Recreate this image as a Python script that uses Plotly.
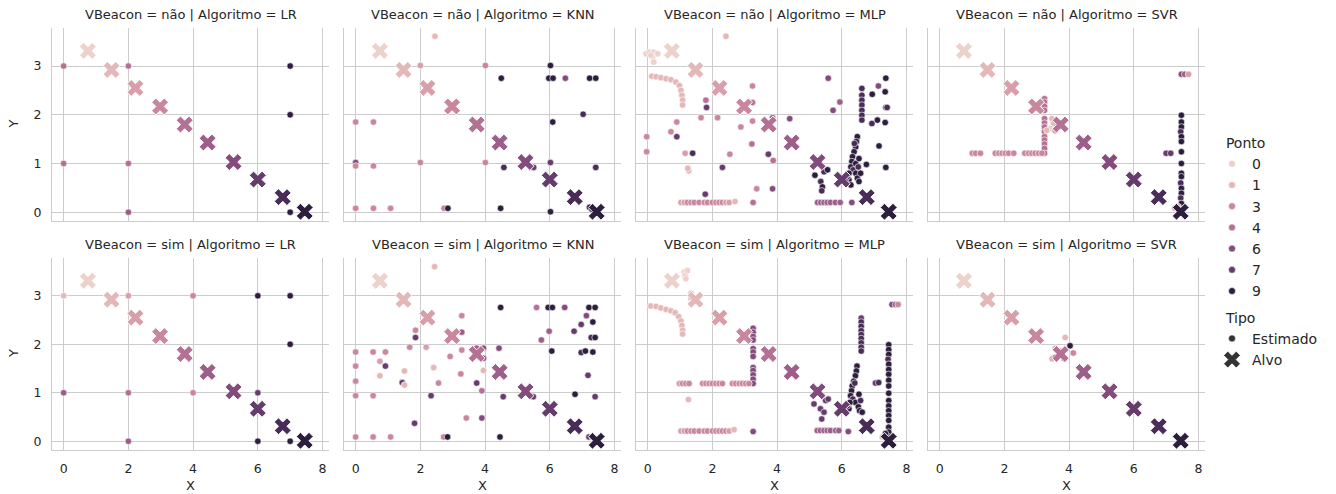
import numpy as np
import plotly.graph_objects as go

# ---------------- data ----------------
algoritmos = ["LR", "KNN", "MLP", "SVR"]
vbeacon = ["não", "sim"]
ponto_legend = [0, 1, 3, 4, 6, 7, 9]
x_ticks = [0, 2, 4, 6, 8]
y_ticks = [0, 1, 2, 3]

# targets (Alvo), Ponto 0..9
alvo_x = [0.75, 1.48, 2.22, 2.98, 3.74, 4.45, 5.25, 6.0, 6.77, 7.45]
alvo_y = [3.31, 2.92, 2.55, 2.17, 1.8, 1.43, 1.03, 0.67, 0.31, 0.01]
alvo_p = [0, 1, 2, 3, 4, 5, 6, 7, 8, 9]

# estimated points (x, y, Ponto) per panel
lr_nao = [(0, 3, 4), (0, 1, 4), (2, 3, 4), (2, 1, 4), (2, 0, 5),
          (7, 3, 9), (7, 2, 9), (7, 0, 9)]
lr_sim = [(0, 3, 1), (0, 1, 5), (2, 3, 2), (2, 1, 4), (2, 0, 5), (4, 3, 3), (4, 1, 3),
          (6, 3, 9), (6, 1, 7), (6, 0, 9), (7, 3, 9), (7, 2, 9), (7, 0, 9)]

knn_nao = [(2.45, 3.61, 1), (2.0, 3.01, 2), (4.01, 3.01, 3), (6.02, 3.01, 9), (4.5, 2.75, 9),
           (5.97, 2.75, 9), (6.1, 2.75, 9), (6.48, 2.75, 6), (7.23, 2.75, 9), (7.42, 2.75, 9),
           (7.03, 2.01, 8), (0, 1.85, 3), (0.55, 1.85, 3), (6.09, 1.85, 9), (0, 1.02, 6),
           (0, 0.95, 3), (0.55, 0.95, 3), (2.0, 1.02, 3), (4.01, 1.02, 3), (4.58, 0.92, 8),
           (5.5, 0.92, 7), (6.02, 1.02, 7), (7.42, 0.92, 8), (0, 0.08, 3), (0.55, 0.08, 3),
           (1.08, 0.08, 3), (2.73, 0.08, 3), (2.85, 0.08, 9), (4.48, 0.08, 9), (6.02, 0.01, 9),
           (7.23, 0.1, 9), (7.3, 0.06, 8)]

knn_sim = [(2.44, 3.6, 1), (4.48, 2.76, 9), (5.59, 2.76, 4), (5.95, 2.76, 9), (6.08, 2.76, 9),
           (6.46, 2.76, 6), (7.21, 2.76, 9), (7.4, 2.76, 9), (3.28, 2.59, 3), (7.13, 2.59, 6),
           (6.97, 2.41, 7), (7.33, 2.46, 9), (1.85, 2.29, 3), (3.28, 2.25, 5), (5.98, 2.27, 5),
           (6.75, 2.27, 7), (1.85, 2.14, 7), (5.74, 2.09, 5), (7.28, 2.14, 8), (7.4, 2.14, 9),
           (1.67, 1.94, 3), (2.18, 1.94, 2), (0, 1.84, 3), (0.54, 1.84, 3), (0.92, 1.84, 3),
           (3.28, 1.88, 3), (3.74, 1.92, 5), (3.95, 1.92, 6), (4.43, 1.92, 6), (6.06, 1.86, 9),
           (6.97, 1.83, 8), (7.1, 1.86, 9), (7.33, 1.84, 9), (0.75, 1.65, 2), (2.92, 1.75, 3),
           (3.69, 1.76, 3), (3.95, 1.71, 6), (0, 1.55, 3), (0.92, 1.55, 7), (1.51, 1.45, 1),
           (2.41, 1.52, 1), (3.95, 1.46, 1), (0.75, 1.35, 1), (3.25, 1.39, 3), (7.18, 1.36, 7),
           (0, 1.24, 3), (1.44, 1.21, 7), (1.51, 1.16, 1), (2.56, 1.2, 3), (3.74, 1.2, 7),
           (3.9, 1.04, 4), (0, 0.94, 3), (0.54, 0.94, 3), (2.33, 0.94, 7), (4.56, 0.92, 7),
           (5.49, 0.92, 7), (6.78, 0.97, 9), (7.4, 0.92, 7), (3.42, 0.48, 3), (3.9, 0.48, 6),
           (1.82, 0.37, 7), (0, 0.09, 3), (0.54, 0.09, 3), (1.08, 0.09, 3), (2.72, 0.09, 3),
           (2.84, 0.09, 9), (4.46, 0.09, 9), (7.21, 0.09, 7), (7.31, 0.09, 7)]

mlp_nao = [(-0.05, 3.25, 0), (0.05, 3.28, 0), (0.18, 3.28, 0), (0.31, 3.25, 0), (0.15, 3.18, 0),
           (0.19, 3.08, 0), (0.1, 3.22, 0),
           (0.13, 2.79, 1), (0.26, 2.78, 1), (0.41, 2.76, 1), (0.57, 2.74, 1), (0.72, 2.72, 1),
           (0.87, 2.67, 1), (0.98, 2.6, 1), (1.03, 2.5, 1), (1.06, 2.4, 1), (1.08, 2.3, 1),
           (1.08, 2.2, 1), (2.42, 3.61, 1),
           (3.24, 2.59, 3), (3.24, 2.25, 4), (1.8, 2.3, 4), (1.82, 2.15, 7), (1.65, 1.94, 3),
           (2.16, 1.94, 3), (0.9, 1.85, 3), (0.72, 1.65, 3), (0.9, 1.55, 7), (-0.03, 1.55, 3),
           (-0.03, 1.24, 3), (1.16, 1.21, 2), (1.39, 1.21, 8), (1.27, 0.85, 1), (1.24, 0.9, 1),
           (2.31, 0.92, 7), (2.54, 1.19, 3), (2.88, 1.75, 3), (3.24, 1.87, 3), (3.22, 1.4, 4),
           (3.73, 1.19, 7), (3.88, 1.06, 4), (4.39, 1.92, 6), (3.86, 1.94, 5), (1.78, 0.37, 7),
           (3.37, 0.48, 3), (3.86, 0.48, 6),
           (1.03, 0.2, 2), (1.13, 0.2, 2), (1.23, 0.2, 3), (1.34, 0.2, 3), (1.44, 0.2, 3),
           (1.59, 0.2, 3), (1.75, 0.2, 3), (1.85, 0.2, 3), (2.0, 0.2, 3), (2.11, 0.2, 3),
           (2.21, 0.2, 3), (2.31, 0.2, 3), (2.42, 0.2, 2), (2.52, 0.2, 2), (2.7, 0.22, 1),
           (3.26, 0.2, 4),
           (5.25, 0.2, 5), (5.35, 0.2, 5), (5.45, 0.2, 5), (5.55, 0.2, 5), (5.65, 0.2, 5),
           (5.8, 0.2, 5), (5.95, 0.2, 5), (6.31, 0.2, 6),
           (5.58, 2.75, 6), (5.94, 2.26, 5), (5.73, 2.09, 6),
           (6.62, 2.54, 8), (6.62, 2.4, 8), (6.62, 2.3, 8), (6.62, 2.2, 8), (6.62, 2.09, 8),
           (6.62, 1.99, 8), (6.62, 1.89, 8),
           (6.94, 2.42, 9), (7.13, 2.59, 6), (7.36, 2.75, 9), (7.34, 2.47, 9), (7.36, 2.15, 7),
           (7.4, 2.15, 8), (7.1, 1.89, 9), (6.93, 1.82, 8), (7.34, 1.84, 9), (7.15, 1.36, 9),
           (7.36, 0.92, 9), (6.76, 0.98, 9),
           (6.48, 1.55, 9), (6.45, 1.45, 9), (6.43, 1.34, 9), (6.38, 1.24, 9), (6.33, 1.14, 9),
           (6.31, 1.04, 9), (6.28, 0.93, 9), (6.35, 0.87, 8), (6.43, 0.8, 9), (6.48, 0.7, 9),
           (6.53, 0.63, 9), (6.22, 0.66, 9), (6.17, 0.73, 8), (6.28, 0.56, 9), (6.43, 1.0, 9),
           (6.53, 1.1, 9), (6.51, 0.93, 8), (6.58, 0.8, 9), (6.39, 1.41, 8), (6.22, 0.8, 9),
           (6.12, 0.63, 9),
           (5.17, 0.76, 9), (5.35, 0.63, 8), (5.4, 0.52, 9), (5.45, 0.83, 8), (5.56, 0.87, 9),
           (5.38, 0.44, 8)]

mlp_sim = [(1.13, 3.49, 0), (1.16, 3.42, 0), (1.18, 3.35, 0), (1.23, 3.52, 0),
           (1.34, 3.05, 1), (1.34, 2.95, 1), (1.34, 2.84, 1),
           (0.1, 2.79, 1), (0.26, 2.78, 1), (0.41, 2.75, 1), (0.57, 2.72, 1), (0.72, 2.69, 1),
           (0.85, 2.65, 1), (0.96, 2.57, 1), (1.03, 2.48, 1), (1.06, 2.39, 1), (1.08, 2.29, 1),
           (1.08, 2.21, 1),
           (3.26, 2.33, 6), (3.26, 2.25, 6), (3.26, 2.16, 6), (3.26, 2.09, 6), (3.26, 1.91, 6),
           (3.26, 1.84, 6), (3.26, 1.75, 6), (3.26, 1.52, 6), (3.26, 1.46, 6), (3.26, 1.37, 6),
           (3.26, 1.28, 6), (3.26, 1.19, 6),
           (0.98, 1.19, 2), (1.08, 1.19, 3), (1.18, 1.19, 3), (1.28, 1.19, 3),
           (1.7, 1.19, 3), (1.8, 1.19, 3), (1.9, 1.19, 3), (2.0, 1.19, 3), (2.11, 1.19, 3),
           (2.21, 1.19, 3), (2.31, 1.19, 3),
           (2.62, 1.19, 3), (2.72, 1.19, 3), (2.83, 1.19, 3), (2.93, 1.19, 3), (3.03, 1.19, 3),
           (3.13, 1.19, 3),
           (1.26, 0.86, 1),
           (1.03, 0.21, 2), (1.13, 0.21, 2), (1.23, 0.21, 3), (1.34, 0.21, 3), (1.44, 0.21, 3),
           (1.59, 0.21, 3), (1.75, 0.21, 3), (1.85, 0.21, 3), (2.0, 0.21, 3), (2.11, 0.21, 3),
           (2.21, 0.21, 3), (2.31, 0.21, 3), (2.42, 0.21, 3), (2.52, 0.21, 2), (2.67, 0.24, 1),
           (3.26, 0.2, 6),
           (5.24, 0.22, 5), (5.34, 0.22, 5), (5.45, 0.22, 5), (5.55, 0.22, 5), (5.65, 0.22, 5),
           (5.81, 0.22, 5), (5.91, 0.22, 5), (6.2, 0.2, 6),
           (5.14, 0.77, 7), (5.34, 0.67, 7), (5.45, 0.6, 7), (5.38, 0.46, 7), (5.5, 0.84, 7),
           (5.58, 0.87, 7),
           (6.6, 2.54, 7), (6.6, 2.46, 8), (6.6, 2.37, 8), (6.6, 2.28, 8), (6.6, 2.2, 8),
           (6.6, 2.12, 8), (6.6, 2.03, 8), (6.6, 1.94, 8), (6.6, 1.86, 8),
           (6.47, 1.55, 9), (6.45, 1.45, 9), (6.42, 1.35, 9), (6.37, 1.24, 9), (6.32, 1.14, 9),
           (6.3, 1.04, 9), (6.27, 0.94, 9), (6.34, 0.87, 8), (6.42, 0.8, 9), (6.51, 0.71, 9),
           (6.55, 0.63, 9), (6.22, 0.67, 9), (6.17, 0.73, 8), (6.53, 0.97, 9), (6.58, 0.84, 8),
           (6.63, 0.6, 9), (6.4, 1.2, 8), (6.25, 0.8, 9),
           (7.45, 1.99, 9), (7.45, 1.89, 9), (7.45, 1.79, 9), (7.43, 1.69, 8), (7.45, 1.59, 9),
           (7.45, 1.48, 9), (7.45, 1.38, 9), (7.45, 1.26, 9), (7.45, 1.14, 9), (7.45, 0.99, 9),
           (7.45, 0.84, 9), (7.45, 0.73, 9), (7.45, 0.63, 9), (7.45, 0.53, 9), (7.45, 0.43, 9),
           (7.45, 0.29, 9), (7.45, 0.19, 9), (7.45, 0.09, 9),
           (7.04, 1.2, 7), (7.14, 1.21, 8),
           (7.55, 2.82, 6), (7.66, 2.82, 5), (7.74, 2.82, 3),
           (7.25, 0.09, 1), (7.35, 0.16, 9)]

svr_nao = [(3.24, 2.33, 4), (3.24, 2.26, 4), (3.24, 2.17, 4), (3.24, 2.09, 4), (3.24, 1.92, 4),
           (3.24, 1.83, 4), (3.24, 1.75, 4), (3.24, 1.65, 4), (3.24, 1.55, 4), (3.24, 1.48, 4),
           (3.24, 1.4, 4), (3.24, 1.31, 4), (3.24, 1.21, 4),
           (1.01, 1.21, 3), (1.11, 1.21, 3), (1.26, 1.21, 3), (1.72, 1.21, 3), (1.83, 1.21, 3),
           (1.93, 1.21, 3), (2.03, 1.21, 3), (2.13, 1.21, 3), (2.29, 1.21, 3), (2.63, 1.21, 3),
           (2.75, 1.21, 3), (2.85, 1.21, 3), (2.95, 1.21, 3), (3.06, 1.21, 3), (3.16, 1.21, 3),
           (3.47, 1.92, 1), (3.52, 1.82, 1), (3.42, 1.72, 0), (3.31, 1.68, 1), (3.57, 1.67, 2),
           (3.77, 1.83, 5), (3.65, 1.75, 9),
           (7.47, 1.99, 9), (7.47, 1.85, 9), (7.47, 1.75, 9), (7.45, 1.65, 8), (7.47, 1.55, 9),
           (7.47, 1.45, 9), (7.47, 1.24, 9), (7.47, 1.0, 9), (7.47, 0.8, 9), (7.47, 0.73, 9),
           (7.45, 0.6, 8), (7.47, 0.49, 9), (7.47, 0.39, 9), (7.45, 0.29, 8), (7.47, 0.18, 9),
           (7.47, 0.08, 9),
           (7.0, 1.21, 7), (7.14, 1.21, 7), (7.26, 0.08, 1), (7.36, 0.12, 2),
           (7.47, 2.83, 6), (7.57, 2.83, 5), (7.69, 2.83, 2)]

svr_sim = [(3.88, 2.14, 1), (3.88, 1.88, 3), (3.72, 1.86, 3), (3.57, 1.92, 1), (3.47, 1.7, 1),
           (3.85, 1.7, 5), (3.7, 1.8, 0), (4.13, 1.82, 3), (3.59, 1.73, 9), (4.03, 1.97, 9)]

panels = {("não", "LR"): lr_nao, ("não", "KNN"): knn_nao, ("não", "MLP"): mlp_nao,
          ("não", "SVR"): svr_nao, ("sim", "LR"): lr_sim, ("sim", "KNN"): knn_sim,
          ("sim", "MLP"): mlp_sim, ("sim", "SVR"): svr_sim}


# ---------------- colours (seaborn default cubehelix "ch:") ----------------
def cubehelix(v, vmin=0.0, vmax=9.0, start=0.0, rot=0.4, gamma=1.0, hue=0.8,
              light=0.85, dark=0.15):
    t = (v - vmin) / (vmax - vmin)
    x = light + (dark - light) * t
    xg = x ** gamma
    a = hue * xg * (1 - xg) / 2
    phi = 2 * np.pi * (start / 3 + rot * x)
    r = xg + a * (-0.14861 * np.cos(phi) + 1.78277 * np.sin(phi))
    g = xg + a * (-0.29227 * np.cos(phi) - 0.90649 * np.sin(phi))
    b = xg + a * (1.97294 * np.cos(phi))
    c = [int(round(255 * min(1, max(0, k)))) for k in (r, g, b)]
    return f"rgb({c[0]},{c[1]},{c[2]})"


# ---------------- layout geometry ----------------
W, H = 1336, 494
col_px = [(52, 329), (344, 621), (636, 913), (928, 1205)]
row_px = [(28, 221), (258, 450)]
x_range = [-0.36, 8.2]
y_range = [-0.18, 3.78]
FONT = "DejaVu Sans"
TXT = "#262626"
GRID = "#cccccc"

fig = go.Figure()
layout = {}
annotations = []

for r, vb in enumerate(vbeacon):
    for c, alg in enumerate(algoritmos):
        i = r * 4 + c + 1
        xa = "x" if i == 1 else f"x{i}"
        ya = "y" if i == 1 else f"y{i}"
        pts = panels[(vb, alg)]
        ex = [p[0] for p in pts]
        ey = [p[1] for p in pts]
        ep = [p[2] for p in pts]
        fig.add_trace(go.Scatter(
            x=ex, y=ey, mode="markers", xaxis=xa, yaxis=ya, showlegend=False,
            marker=dict(size=6.5, color=[cubehelix(p) for p in ep],
                        line=dict(color="white", width=0.6)),
            hoverinfo="skip"))
        fig.add_trace(go.Scatter(
            x=alvo_x, y=alvo_y, mode="markers", xaxis=xa, yaxis=ya, showlegend=False,
            marker=dict(symbol="x", size=15, color=[cubehelix(p) for p in alvo_p],
                        line=dict(color="white", width=1)),
            hoverinfo="skip"))

        x0, x1 = col_px[c]
        y0, y1 = row_px[r]
        xd = [x0 / W, x1 / W]
        yd = [1 - y1 / H, 1 - y0 / H]
        xkey = "xaxis" if i == 1 else f"xaxis{i}"
        ykey = "yaxis" if i == 1 else f"yaxis{i}"
        layout[xkey] = dict(
            domain=xd, anchor=ya, range=x_range, tickvals=x_ticks,
            ticktext=[str(t) for t in x_ticks], showticklabels=(r == 1),
            showgrid=True, gridcolor=GRID, gridwidth=1, zeroline=False,
            showline=True, linecolor=GRID, linewidth=1.25,
            ticks="outside", ticklen=7, tickcolor="rgba(0,0,0,0)",
            tickfont=dict(family=FONT, size=12.5, color=TXT), automargin=False)
        layout[ykey] = dict(
            domain=yd, anchor=xa, range=y_range, tickvals=y_ticks,
            ticktext=[str(t) for t in y_ticks], showticklabels=(c == 0),
            showgrid=True, gridcolor=GRID, gridwidth=1, zeroline=False,
            showline=True, linecolor=GRID, linewidth=1.25,
            ticks="outside", ticklen=7, tickcolor="rgba(0,0,0,0)",
            tickfont=dict(family=FONT, size=12.5, color=TXT), automargin=False)

        annotations.append(dict(
            text=f"VBeacon = {vb} | Algoritmo = {alg}", xref="paper", yref="paper",
            x=(x0 + x1) / 2 / W, y=1 - (y0 - 14) / H, xanchor="center", yanchor="middle",
            showarrow=False, font=dict(family=FONT, size=13, color=TXT)))
        if r == 1:
            annotations.append(dict(
                text="X", xref="paper", yref="paper", x=(x0 + x1) / 2 / W,
                y=1 - 485 / H, xanchor="center", yanchor="middle", showarrow=False,
                font=dict(family=FONT, size=13, color=TXT)))
        if c == 0:
            annotations.append(dict(
                text="Y", xref="paper", yref="paper", x=13 / W,
                y=1 - (y0 + y1) / 2 / H, xanchor="center", yanchor="middle",
                textangle=-90, showarrow=False,
                font=dict(family=FONT, size=13, color=TXT)))

# legend entries
for k, p in enumerate(ponto_legend):
    fig.add_trace(go.Scatter(
        x=[None], y=[None], mode="markers", name=str(p),
        marker=dict(size=7, color=cubehelix(p), line=dict(color="white", width=0.6)),
        legendgroup="ponto",
        legendgrouptitle=dict(text="\u00a0\u00a0Ponto") if k == 0 else None,
        showlegend=True))
fig.add_trace(go.Scatter(
    x=[None], y=[None], mode="markers", name="Estimado",
    marker=dict(size=7, color="#333333", line=dict(color="white", width=0.6)),
    legendgroup="tipo", legendgrouptitle=dict(text="\u00a0\u00a0Tipo"), showlegend=True))
fig.add_trace(go.Scatter(
    x=[None], y=[None], mode="markers", name="Alvo",
    marker=dict(symbol="x", size=15, color="#333333", line=dict(color="white", width=1)),
    legendgroup="tipo", showlegend=True))

fig.update_layout(
    width=W, height=H, margin=dict(l=0, r=0, t=0, b=0),
    paper_bgcolor="white", plot_bgcolor="white",
    font=dict(family=FONT, size=13, color=TXT),
    annotations=annotations,
    legend=dict(x=1212 / W, y=1 - 127 / H, xanchor="left", yanchor="top",
                traceorder="grouped", tracegroupgap=5, itemsizing="trace",
                font=dict(family=FONT, size=14, color=TXT),
                grouptitlefont=dict(family=FONT, size=14, color=TXT),
                bgcolor="rgba(0,0,0,0)"),
    **layout)

fig.write_html(
    "out.html",
    config={"displayModeBar": False},
    post_script="document.body.style.margin='0';document.body.style.overflow='hidden';")
